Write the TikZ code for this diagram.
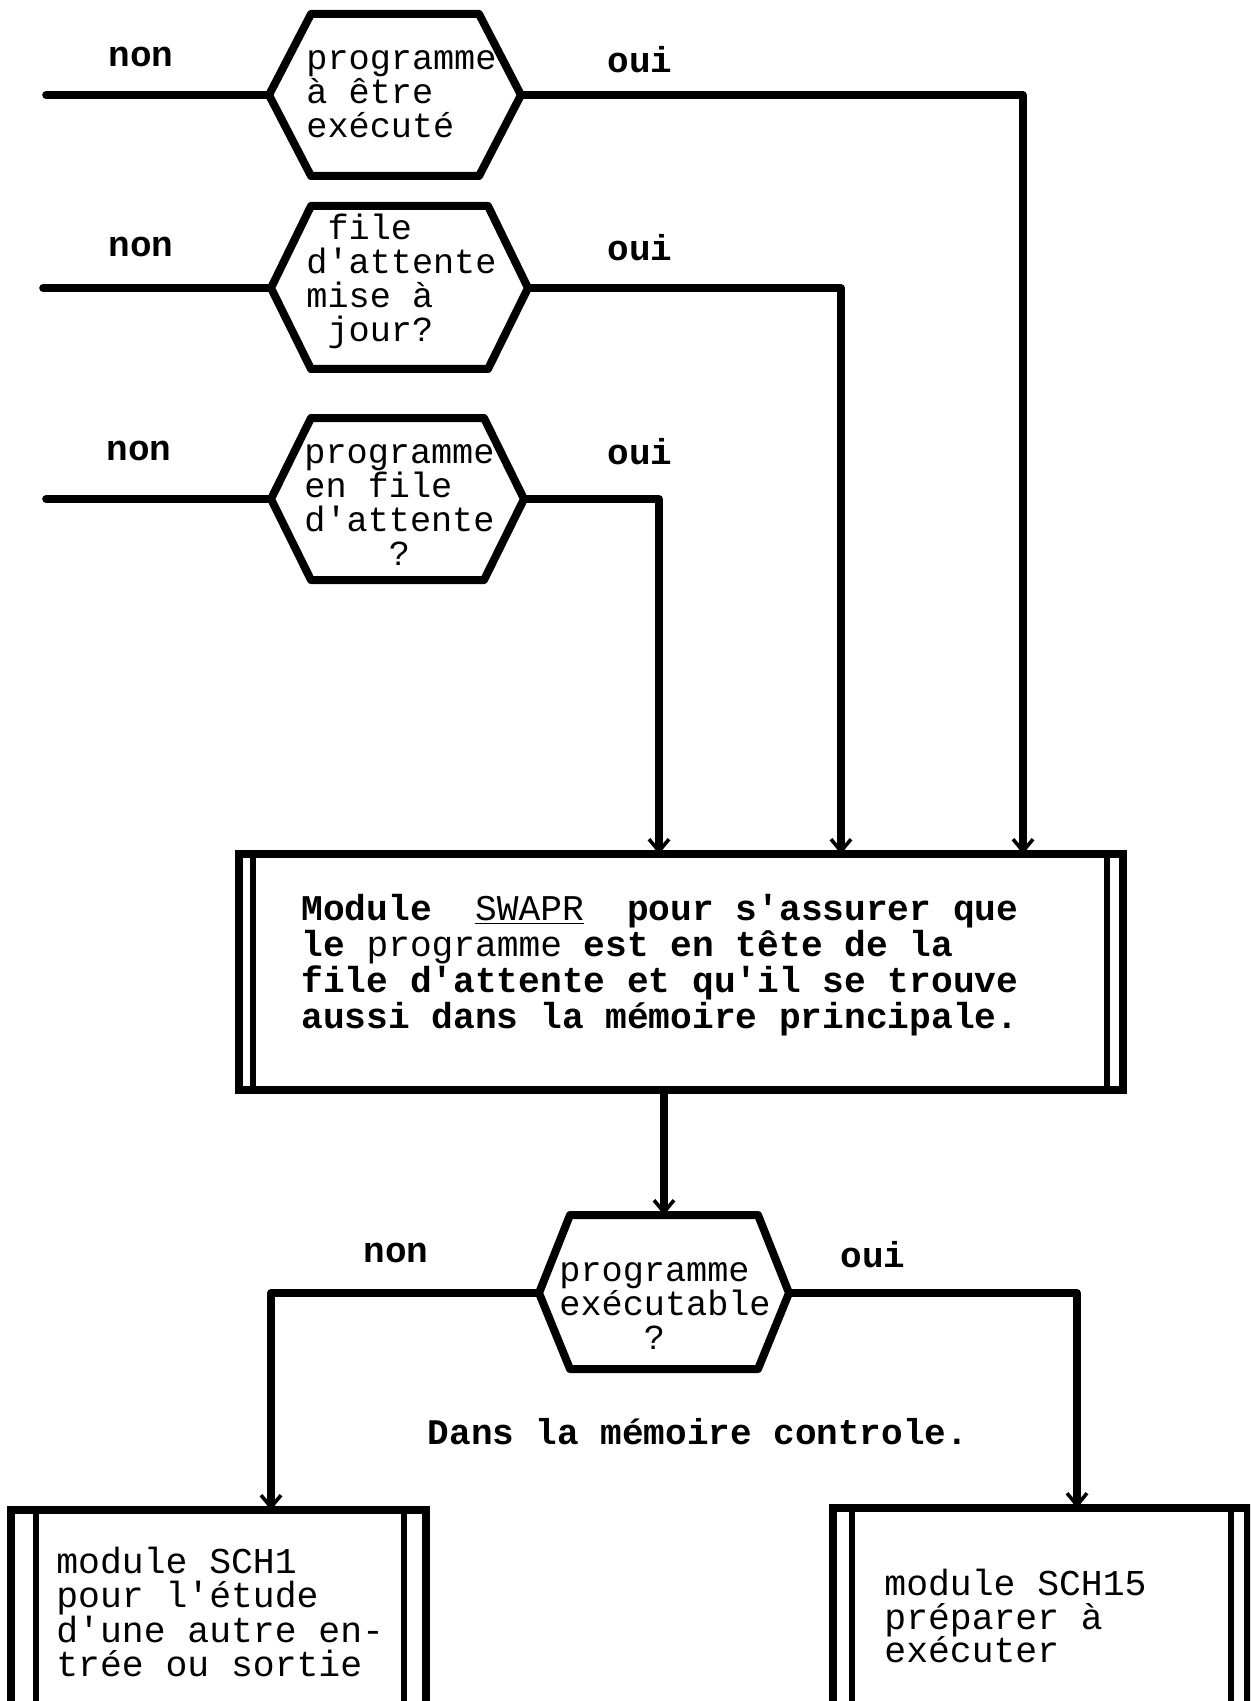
\documentclass[tikz,border=0pt]{standalone}
\usepackage{fontspec}
\setmonofont{Liberation Mono}
\usetikzlibrary{arrows.meta}
\tikzset{
  hexline/.style={line width=4pt, line join=round},
  conn/.style={line width=3.8pt, line cap=round, line join=round},
  arr/.style={conn, -{Straight Barb[length=6pt,width=10pt,line width=1.8pt]}},
  lbl/.style={font=\ttfamily\fontsize{18}{18}\selectfont\bfseries, inner sep=0pt},
  hextext/.style={font=\ttfamily\fontsize{17.6}{17}\selectfont, align=left, inner sep=0pt, anchor=west},
  boxtext/.style={font=\ttfamily\fontsize{18.1}{17.9}\selectfont\bfseries, align=left, inner sep=0pt, anchor=west},
  btext/.style={font=\ttfamily\fontsize{18.2}{16.9}\selectfont, align=left, inner sep=0pt, anchor=west},
  procbox/.style={draw, line width=3.8pt, outer sep=0pt, inner sep=0pt},
  innerline/.style={line width=3pt}
}
% name, L, R, T, B, vertex y, inset
\newcommand\hexagonshape[7]{%
  \coordinate (#1-w) at (#2,#6);
  \coordinate (#1-e) at (#3,#6);
  \coordinate (#1-n) at ({(#2+#3)/2},#4);
  \draw[hexline] (#1-w) -- (#2+#7,#4) -- (#3-#7,#4) -- (#1-e) -- (#3-#7,#5) -- (#2+#7,#5) -- cycle;
}
\begin{document}
\begin{tikzpicture}[x=0.5pt,y=-0.5pt]
\useasboundingbox (0,0) rectangle (1250,1701);
\fill[white] (0,0) rectangle (1250,1701);
\clip (0,0) rectangle (1250,1701);

% decisions
\hexagonshape{h1}{269}{521}{14}{176}{95}{42}
\hexagonshape{h2}{271}{528}{206}{369}{288}{40}
\hexagonshape{h3}{271}{524}{418}{580}{499}{40}
\hexagonshape{h4}{539}{789}{1215}{1369}{1293}{31}

\node[hextext] (t1) at (306,94) {programme\\à être\\exécuté};
\node[hextext] (t2) at (306,281) {\phantom{x}file\\d'attente\\mise à\\\phantom{x}jour?};
\node[hextext] (t3) at (304,505) {programme\\en file\\d'attente\\\phantom{xxxx}?};
\node[hextext] (t4) at (559,1306) {programme\\exécutable\\\phantom{xxxx}?};

% labels
\node[lbl] (n1) at (141,57) {non};
\node[lbl] (o1) at (640,60) {oui};
\node[lbl] (n2) at (141,247) {non};
\node[lbl] (o2) at (640,248) {oui};
\node[lbl] (n3) at (139,451) {non};
\node[lbl] (o3) at (640,452) {oui};
\node[lbl] (n4) at (396,1253) {non};
\node[lbl] (o4) at (873,1255) {oui};
\node[lbl] (dm) at (698,1432) {Dans la mémoire controle.};

% main process box
\node[procbox, minimum width=442pt, minimum height=118pt] (box) at (681,972) {};
\draw[innerline] ([xshift=7pt]box.north west) -- ([xshift=7pt]box.south west);
\draw[innerline] ([xshift=-8pt]box.north east) -- ([xshift=-8pt]box.south east);
\node[boxtext] (bt) at (301,965) {Module\phantom{xx}\underline{\mdseries SWAPR}\phantom{xx}pour s'assurer que\\le {\mdseries programme} est en tête de la\\file d'attente et qu'il se trouve\\aussi dans la mémoire principale.};

% bottom boxes
\node[procbox, minimum width=207.5pt, minimum height=101pt] (lbox) at (218.5,1611) {};
\draw[innerline] ([xshift=12.5pt]lbox.north west) -- ([xshift=12.5pt]lbox.south west);
\draw[innerline] ([xshift=-11pt]lbox.north east) -- ([xshift=-11pt]lbox.south east);
\node[btext] (lt) at (56,1612) {module SCH1\\pour l'étude\\d'une autre en-\\trée ou sortie};

\node[procbox, minimum width=207.5pt, minimum height=102pt] (rbox) at (1040.5,1610) {};
\draw[innerline] ([xshift=9.5pt]rbox.north west) -- ([xshift=9.5pt]rbox.south west);
\draw[innerline] ([xshift=-8.5pt]rbox.north east) -- ([xshift=-8.5pt]rbox.south east);
\node[btext] (rt) at (884,1616) {module SCH15\\préparer à\\exécuter};

% free ends and column positions
\coordinate (s1) at (46,95);
\coordinate (s2) at (43,288);
\coordinate (s3) at (46,499);
\coordinate (c1) at (1023,0);
\coordinate (c2) at (841,0);
\coordinate (c3) at (659,0);
\coordinate (dl) at (271,0);
\coordinate (dr) at (1077,0);

% connectors
\draw[conn] (s1) -- (h1-w);
\draw[conn] (s2) -- (h2-w);
\draw[conn] (s3) -- (h3-w);
\draw[arr] (h1-e) -| (c1 |- box.north);
\draw[arr] (h2-e) -| (c2 |- box.north);
\draw[arr] (h3-e) -| (c3 |- box.north);
\draw[arr] (h4-n |- box.south) -- (h4-n);
\draw[arr] (h4-w) -| (dl |- lbox.north);
\draw[arr] (h4-e) -| (dr |- rbox.north);
\end{tikzpicture}
\end{document}
